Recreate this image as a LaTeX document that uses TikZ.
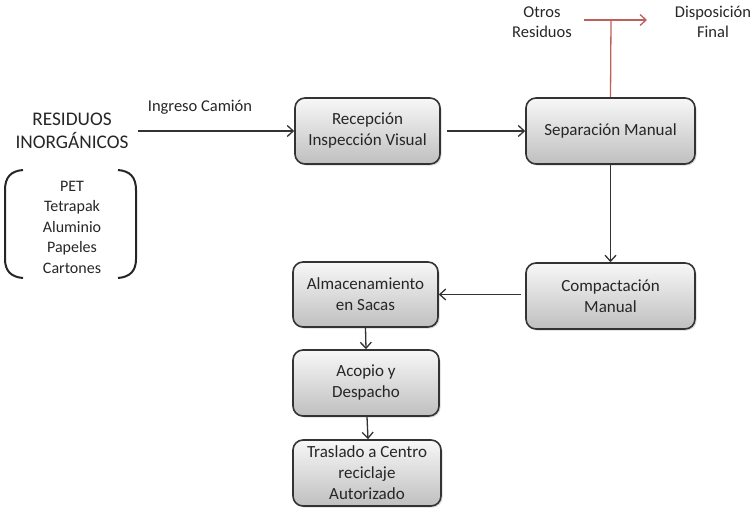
\documentclass[tikz,border=0pt]{standalone}
\usepackage{fontspec}
\setmainfont{Carlito}
\usetikzlibrary{arrows.meta,shadows}
\definecolor{redline}{RGB}{190,95,90}
\tikzset{
  x=1pt,y=-1pt,
  proc/.style={draw=black!80,line width=1.6pt,rounded corners=10pt,
    top color=gray!6,bottom color=gray!50,
    drop shadow={shadow xshift=1.5pt,shadow yshift=-1.5pt,opacity=0.3},
    align=center,font=\fontsize{17}{21}\selectfont,inner sep=0pt,text=black!85},
  lbl/.style={align=center,font=\fontsize{16.5}{20}\selectfont,text=black!85},
  arr/.style={-{Straight Barb[length=6pt,width=11pt]},line width=1.3pt,draw=black!80},
  rarr/.style={-{Straight Barb[length=6pt,width=11pt]},line width=1.3pt,draw=redline},
  paren/.style={line width=2pt,draw=black!85}
}
\begin{document}
\begin{tikzpicture}
\useasboundingbox (0,0) rectangle (752,508);
% boxes
\node[proc,minimum width=145pt,minimum height=66pt] (rec) at (367.5,131) {Recepción\\Inspección Visual};
\node[proc,minimum width=169pt,minimum height=66pt] (sep) at (610.5,131) {Separación Manual};
\node[proc,minimum width=169pt,minimum height=66pt] (com) at (610.5,296) {Compactación\\Manual};
\node[proc,minimum width=145pt,minimum height=65pt] (alm) at (365.5,294.5) {Almacenamiento\\en Sacas};
\node[proc,minimum width=146pt,minimum height=66pt] (aco) at (366,383) {Acopio y\\Despacho};
\node[proc,minimum width=148pt,minimum height=66pt] (tra) at (367,473) {Traslado a Centro\\reciclaje\\Autorizado};
% left texts
\node[align=center,font=\fontsize{19.3}{23}\selectfont,text=black!85] (res) at (72,131) {RESIDUOS\\INORGÁNICOS};
\node[align=center,font=\fontsize{16}{20.5}\selectfont,text=black!85] (list) at (72,227) {PET\\Tetrapak\\Aluminio\\Papeles\\Cartones};
\draw[paren] (23,170) .. controls (11,171) and (5,177) .. (5,190) -- (5,259) .. controls (5,271) and (11,277) .. (23,278);
\draw[paren] (118,170) .. controls (130,171) and (136,177) .. (136,190) -- (136,259) .. controls (136,271) and (130,277) .. (118,278);
\coordinate (in) at (138,131);
\node[lbl] (ing) at (200,107) {Ingreso Camión};
% arrows
\draw[arr] (in) -- (rec.west);
\draw[arr] (rec.east) ++(6,0) -- (sep.west);
\draw[arr] (sep.south) -- (com.north);
\draw[arr] ([xshift=-4pt]com.west |- alm.east) -- (alm.east);
\draw[arr] (alm.south) -- (aco.north);
\draw[arr] ([xshift=1pt]aco.south) -- ([xshift=1pt]tra.north);
% red branch
\coordinate (rj) at (611,20);
\coordinate (rl) at (584,20);
\coordinate (rr) at (647,20);
\draw[line width=1.3pt,redline] (sep.north) -- (rj);
\draw[rarr] (rl) -- (rr);
\node[lbl] (otros) at (542,22) {Otros\\Residuos};
\node[lbl] (disp) at (713,22) {Disposición\\Final};
\end{tikzpicture}
\end{document}
